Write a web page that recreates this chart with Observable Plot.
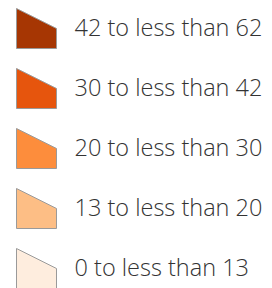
<!DOCTYPE html>
<html>
<head>
<meta charset="utf-8">
<script src="https://cdn.jsdelivr.net/npm/d3@7"></script>
<script src="https://cdn.jsdelivr.net/npm/@observablehq/plot@0.6"></script>
<style>
  html, body { margin: 0; padding: 0; background: #fff; }
  #chart svg { display: block; }
</style>
</head>
<body>
<div id="chart"></div>
<script>
const labels = ["42 to less than 62", "30 to less than 42", "20 to less than 30", "13 to less than 20", "0 to less than 13"];
const colors = ["#a63603", "#e6550d", "#fd8d3c", "#fdbe85", "#feedde"];
const columns = ["swatch", "label"];

const rows = labels.map((label, i) => ({label, color: colors[i]}));

// Custom symbol: square with a sloped top-right corner
const parcel = {
  draw(context, size) {
    const h = Math.sqrt(size / Math.PI); // equals r
    context.moveTo(-h, -h);
    context.lineTo(h, 0);
    context.lineTo(h, h);
    context.lineTo(-h, h);
    context.closePath();
  }
};

const chart = Plot.plot({
  width: 272,
  height: 288,
  margin: 0,
  x: {type: "point", domain: columns, range: [35.5, 74], padding: 0, axis: null},
  y: {type: "point", domain: labels, range: [28, 268], padding: 0, axis: null},
  marks: [
    Plot.dot(rows, {
      x: () => "swatch",
      y: "label",
      r: 20,
      symbol: parcel,
      fill: "color",
      stroke: "#9a9a9a",
      strokeWidth: 1
    }),
    Plot.text(rows, {
      x: () => "label",
      y: "label",
      text: "label",
      textAnchor: "start",
      fill: "#333333",
      fontSize: 23.5,
      fontWeight: 300,
      fontFamily: "'Open Sans', sans-serif"
    })
  ]
});
document.getElementById("chart").appendChild(chart);
</script>
</body>
</html>
